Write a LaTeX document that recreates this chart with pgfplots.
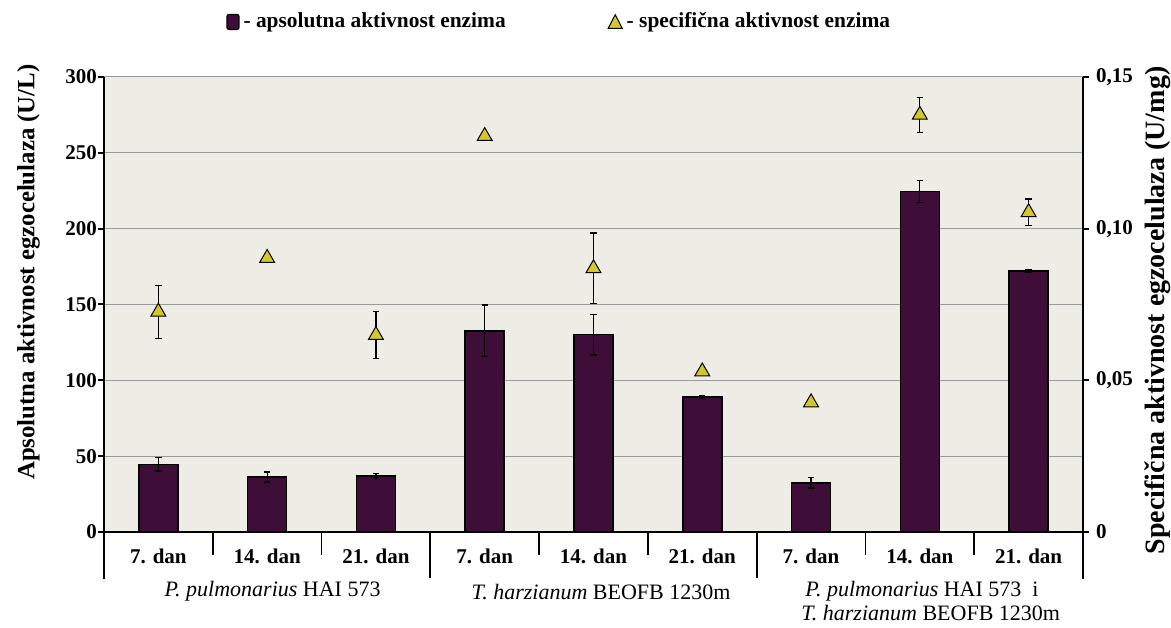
\documentclass[border=0pt]{standalone}
\usepackage{pgfplots}
\usepackage{pgfplotstable}
\pgfplotsset{compat=1.18}
\usepackage{fontspec}
\setmainfont{Liberation Serif}

\definecolor{barfill}{HTML}{3E0E38}
\definecolor{plotbg}{HTML}{EEEDE5}
\definecolor{trifill}{HTML}{D3C72B}
\definecolor{gridgray}{HTML}{9A9A9A}

% absolute enzyme activity (U/L) with standard deviation
\pgfplotstableread{
x  abs    abserr
0  44.6   4.4
1  36.3   3.3
2  36.9   1.5
3  132.7  17.0
4  130.1  13.4
5  89.0   0.8
6  32.5   3.5
7  224.6  7.3
8  172.1  1.2
}\apsolutna

% specific enzyme activity (U/mg) with standard deviation
\pgfplotstableread{
x  spec    specerr
0  0.0726  0.0087
1  0.0903  0
2  0.0649  0.0078
3  0.1305  0
4  0.0869  0.0117
5  0.0529  0
6  0.0427  0
7  0.1375  0.0057
8  0.1054  0.0044
}\specificna

\newcommand{\tickfont}{\bfseries\fontsize{10.5}{12}\selectfont}
\newcommand{\grpfont}{\fontsize{11}{13}\selectfont}

\begin{document}
\begin{tikzpicture}
\begin{axis}[
  width=489.5pt, height=227.5pt, scale only axis,
  xmin=-0.5, xmax=8.5, ymin=0, ymax=300,
  axis y line*=left, axis x line*=bottom,
  axis line style={line width=1pt, -},
  xtick=\empty,
  ytick={0,50,...,300},
  tick align=outside, major tick length=3pt,
  tick style={black, line width=1pt},
  ymajorgrids, grid style={gridgray, line width=0.5pt},
  axis background/.style={fill=plotbg},
  yticklabel style={font=\tickfont, xshift=3pt},
  /pgf/number format/assume math mode=true,
  ylabel={Apsolutna aktivnost egzocelulaza (U/L)},
  ylabel style={font=\bfseries\fontsize{12.4}{14}\selectfont,
    at={(axis description cs:-0.077,0.571)}, anchor=center},
  clip=false,
]
\addplot[ybar, bar width=19.5pt, fill=barfill, draw=black, line width=0.8pt,
  error bars/.cd, y dir=both, y explicit,
  error bar style={black, line width=0.6pt},
  error mark options={rotate=90, mark size=1.6pt, black, line width=0.6pt}]
  table[x=x, y=abs, y error=abserr] {\apsolutna};

% separators below the x axis
\draw[line width=0.9pt] (axis cs:0.5,0) -- ([yshift=-11.5pt]axis cs:0.5,0);
\draw[line width=0.9pt] (axis cs:1.5,0) -- ([yshift=-11.5pt]axis cs:1.5,0);
\draw[line width=0.9pt] (axis cs:3.5,0) -- ([yshift=-11.5pt]axis cs:3.5,0);
\draw[line width=0.9pt] (axis cs:4.5,0) -- ([yshift=-11.5pt]axis cs:4.5,0);
\draw[line width=0.9pt] (axis cs:6.5,0) -- ([yshift=-11.5pt]axis cs:6.5,0);
\draw[line width=0.9pt] (axis cs:7.5,0) -- ([yshift=-11.5pt]axis cs:7.5,0);
\draw[line width=1pt] (axis cs:-0.5,0) -- ([yshift=-23.5pt]axis cs:-0.5,0);
\draw[line width=0.9pt] (axis cs:2.5,0) -- ([yshift=-23pt]axis cs:2.5,0);
\draw[line width=0.9pt] (axis cs:5.5,0) -- ([yshift=-23pt]axis cs:5.5,0);
\draw[line width=1pt] (axis cs:8.5,0) -- ([yshift=-23.5pt]axis cs:8.5,0);

% day labels
\node[font=\tickfont, yshift=-12pt] at (axis cs:0,0) {7. dan};
\node[font=\tickfont, yshift=-12pt] at (axis cs:1,0) {14. dan};
\node[font=\tickfont, yshift=-12pt] at (axis cs:2,0) {21. dan};
\node[font=\tickfont, yshift=-12pt] at (axis cs:3,0) {7. dan};
\node[font=\tickfont, yshift=-12pt] at (axis cs:4,0) {14. dan};
\node[font=\tickfont, yshift=-12pt] at (axis cs:5,0) {21. dan};
\node[font=\tickfont, yshift=-12pt] at (axis cs:6,0) {7. dan};
\node[font=\tickfont, yshift=-12pt] at (axis cs:7,0) {14. dan};
\node[font=\tickfont, yshift=-12pt] at (axis cs:8,0) {21. dan};

% group labels
\node[font=\grpfont, yshift=-29.8pt] at (axis cs:1.05,0) {\textit{P. pulmonarius} HAI 573};
\node[font=\grpfont, yshift=-29.8pt] at (axis cs:4.07,0) {\textit{T. harzianum} BEOFB 1230m};
\node[font=\grpfont, yshift=-29.8pt] at (axis cs:7.02,0) {\textit{P. pulmonarius} HAI 573\ \ i};
\node[font=\grpfont, yshift=-40.6pt] at (axis cs:7.1,0) {\textit{T. harzianum} BEOFB 1230m};

\path (rel axis cs:-0.1062,-0.1978) rectangle (rel axis cs:1.0899,1.1692);
\end{axis}

\begin{axis}[
  width=489.5pt, height=227.5pt, scale only axis,
  xmin=-0.5, xmax=8.5, ymin=0, ymax=0.15,
  axis y line*=right, axis x line=none,
  axis line style={line width=1pt, -},
  ytick={0,0.05,0.1,0.15}, yticklabels={0,{0,05},{0,10},{0,15}},
  tick align=outside, major tick length=3pt,
  tick style={black, line width=1pt},
  yticklabel style={font=\tickfont},
  ylabel={Specifična aktivnost egzocelulaza (U/mg)},
  ylabel style={font=\bfseries\fontsize{14}{16}\selectfont, inner sep=0pt,
    at={(axis description cs:1.0765,0.487)}, anchor=center},
  legend columns=2,
  legend style={at={(axis description cs:0.466,1.121)}, anchor=center,
    draw=none, fill=none, font=\bfseries\fontsize{10.7}{12}\selectfont,
    /tikz/every even column/.append style={column sep=49pt}},
  clip=false,
]
\addlegendimage{legend image code/.code={
  \draw[fill=barfill, draw=black, line width=0.6pt, rounded corners=1pt]
    (0pt,-3.75pt) rectangle (6pt,3.75pt);}}
\addlegendentry{- apsolutna aktivnost enzima}
\addlegendimage{legend image code/.code={
  \draw[fill=trifill, draw=black, line width=0.5pt]
    (0pt,-3.2pt) -- (7pt,-3.2pt) -- (3.5pt,3.6pt) -- cycle;}}
\addlegendentry{- specifična aktivnost enzima}

\addplot[draw=none, mark=none, forget plot,
  restrict expr to domain={\thisrow{specerr}}{0.001:1},
  error bars/.cd, y dir=both, y explicit,
  error bar style={black, line width=0.6pt},
  error mark options={rotate=90, mark size=1.6pt, black, line width=0.6pt}]
  table[x=x, y=spec, y error=specerr] {\specificna};
\addplot[only marks, mark=triangle*, mark size=4.3pt, forget plot,
  mark options={fill=trifill, draw=black, line width=0.5pt}]
  table[x=x, y=spec] {\specificna};
\end{axis}
\end{tikzpicture}
\end{document}
